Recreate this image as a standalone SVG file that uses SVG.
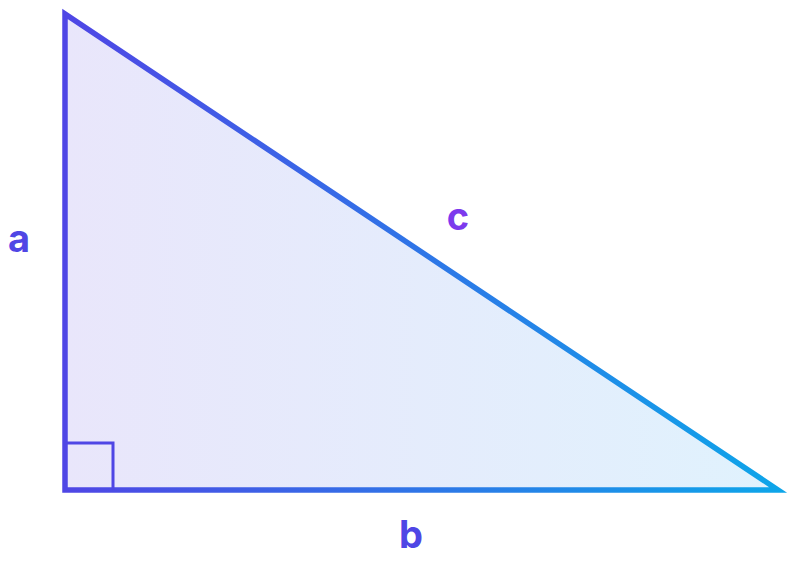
<svg xmlns="http://www.w3.org/2000/svg" width="800" height="563" viewBox="0 0 800 563">
<defs>
<linearGradient id="strokeG" gradientUnits="userSpaceOnUse" x1="65" y1="0" x2="778" y2="0">
<stop offset="0" stop-color="#4f46e5"/>
<stop offset="1" stop-color="#0ea5e9"/>
</linearGradient>
<linearGradient id="fillG" gradientUnits="userSpaceOnUse" x1="65" y1="0" x2="778" y2="0">
<stop offset="0" stop-color="#e9e6fb"/>
<stop offset="1" stop-color="#e0f2fd"/>
</linearGradient>
<style>
.lbl{font-family:Inter,"Liberation Sans",sans-serif;font-weight:700;font-size:38px;text-anchor:middle}
</style>
</defs>
<rect width="800" height="563" fill="#ffffff"/>
<g id="triangle">
<polygon points="65,14 65,490 778,490" fill="url(#fillG)" stroke="url(#strokeG)" stroke-width="5.5" stroke-linejoin="miter" stroke-miterlimit="10"/>
</g>
<g id="right-angle">
<polyline points="65,443 113,443 113,490" fill="none" stroke="#4f46e5" stroke-width="3"/>
</g>
<g id="label-a"><text class="lbl" x="19" y="252" fill="#5046e5">a</text></g>
<g id="label-b"><text class="lbl" x="411" y="548" fill="#4f46e5">b</text></g>
<g id="label-c"><text class="lbl" x="458" y="230" fill="#7c3aed">c</text></g>
</svg>
